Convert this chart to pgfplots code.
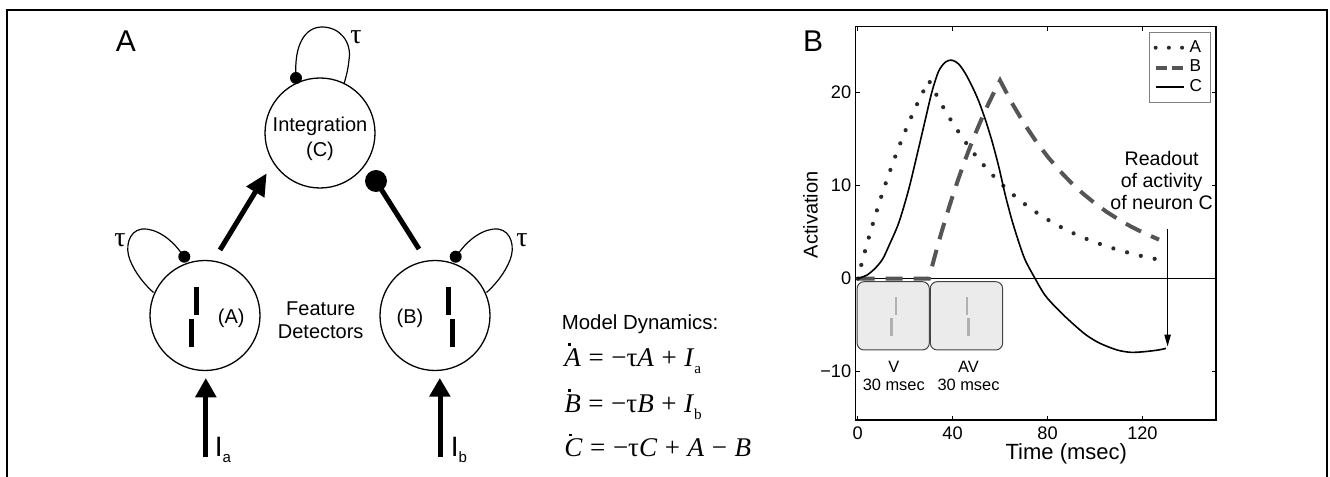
\documentclass[border=0pt]{standalone}
\usepackage{fontspec}
\setmainfont{Liberation Sans}
\newfontfamily\serif{Liberation Serif}
\usepackage{pgfplots}
\pgfplotsset{compat=1.18}
\usetikzlibrary{arrows.meta}
\definecolor{dgray}{HTML}{555555}
\definecolor{dotc}{HTML}{2A2A2A}
\definecolor{boxfill}{HTML}{EBEBEB}
\definecolor{boxedge}{HTML}{444444}
\definecolor{barg}{HTML}{B0B0B0}
\newcommand\od[1]{\ooalign{#1\cr\hidewidth\kern-0.22em\raisebox{0.76em}{\rule{0.11em}{0.11em}}\hidewidth\cr}}
\newcommand\sub[1]{\raisebox{-0.26em}{\fontsize{7.6}{8}\selectfont\upshape #1}}
\newcommand\esp{\hspace{0.28em}}
\begin{document}
\begin{tikzpicture}[font=\fontsize{10}{12}\selectfont]
\begin{axis}[
  at={(427.65pt,28.5pt)}, anchor=south west,
  width=180.35pt, height=196.65pt, scale only axis,
  xmin=-1, xmax=151, ymin=-15.2, ymax=27.1,
  xtick={0,40,80,120}, xticklabels={0,40,80,120},
  ytick={-10,0,10,20}, yticklabels={−10,0,10,20},
  tick align=inside, major tick length=2.2pt,
  tick style={black, line width=0.5pt},
  axis line style={line width=0.65pt},
  ticklabel style={font=\fontsize{9.1}{10}\selectfont},
  yticklabel style={xshift=1.5pt},
  xlabel={Time (msec)}, ylabel={Activation},
  xlabel style={at={(axis description cs:0.585,-0.086)}, anchor=center, font=\fontsize{11}{12}\selectfont},
  ylabel style={at={(axis description cs:-0.124,0.522)}, anchor=center, rotate=0, font=\fontsize{10}{12}\selectfont},
  clip=false,
  legend style={at={(axis description cs:0.985,0.987)}, anchor=north east, draw=gray, line width=0.5pt,
    font=\fontsize{8.6}{8.6}\selectfont, inner xsep=2pt, inner ysep=2pt, row sep=-1.5pt,
    /tikz/every even column/.append style={column sep=1pt}},
  legend cell align=left,
  legend image code/.code={\draw[#1] (0pt,0pt) -- (14pt,0pt);},
]
% stimulus boxes
\draw[fill=boxfill, draw=boxedge, rounded corners=3.5pt, line width=0.5pt] (axis cs:-0.25,-0.32) rectangle (axis cs:30.2,-7.67);
\draw[fill=boxfill, draw=boxedge, rounded corners=3.5pt, line width=0.5pt] (axis cs:30.6,-0.32) rectangle (axis cs:61.1,-7.67);
\draw[barg, line width=1.35pt] (axis cs:16.2,-1.99) -- (axis cs:16.2,-3.9);
\draw[barg, line width=1.35pt] (axis cs:14.2,-4.26) -- (axis cs:14.2,-6.17);
\draw[barg, line width=1.35pt] (axis cs:46.1,-1.99) -- (axis cs:46.1,-3.9);
\draw[barg, line width=1.35pt] (axis cs:46.8,-4.26) -- (axis cs:46.8,-6.17);
\node[font=\fontsize{8.2}{9}\selectfont] at (axis cs:15.2,-9.46) {V};
\node[font=\fontsize{8.2}{9}\selectfont] at (axis cs:15.2,-11.43) {30 msec};
\node[font=\fontsize{8.2}{9}\selectfont] at (axis cs:46.7,-9.46) {AV};
\node[font=\fontsize{8.2}{9}\selectfont] at (axis cs:46.7,-11.43) {30 msec};
% zero line
\draw[line width=0.5pt] (axis cs:-1,0) -- (axis cs:151,0);
% B
\addplot[dgray, line width=2pt, dash pattern=on 8.5pt off 5.5pt, forget plot] coordinates {
(0,0) (30,0) (32.5,2.42) (35,4.71) (37.5,6.86) (40,8.88) (42.5,10.78) (45,12.57) (47.5,14.26) (50,15.85) (52.5,17.34) (55,18.75) (57.5,20.07) (60,21.32) (65,18.89) (70,16.74) (75,14.83) (80,13.14) (85,11.64) (90,10.31) (95,9.14) (100,8.10) (105,7.17) (110,6.36) (115,5.63) (120,4.99) (125,4.42) (127,4.2)};
% A
\addplot[dotc, line width=2.1pt, line cap=round, dash pattern=on 0pt off 7.1pt, forget plot] coordinates {
(0,0) (2.5,2.42) (5,4.71) (7.5,6.86) (10,8.88) (12.5,10.78) (15,12.57) (17.5,14.26) (20,15.85) (22.5,17.34) (25,18.75) (27.5,20.07) (30,21.32) (35,18.89) (40,16.74) (45,14.83) (50,13.14) (55,11.64) (60,10.31) (65,9.14) (70,8.10) (75,7.17) (80,6.36) (85,5.63) (90,4.99) (95,4.42) (100,3.92) (105,3.47) (110,3.08) (115,2.73) (120,2.41) (125,2.14) (130,1.90) (131,1.86)};
% C
\addplot[black, line width=0.8pt, smooth, forget plot] coordinates {
(0,0) (4,0.4) (7.5,1.15) (10.5,2.1) (13.1,3.5) (17.3,6.0) (21.5,9.6) (25.7,14.05) (28.5,17.1) (31.3,20.1) (34.1,22.3) (37.0,23.3) (39.7,23.5) (42.5,23.1) (45.3,22.1) (48.2,20.7) (51.0,19.1) (53.8,17.1) (56.6,14.8) (59.4,12.1) (62.2,9.0) (65.0,6.3) (67.8,4.0) (70.6,2.0) (74.8,0) (79.0,-1.8) (84.7,-3.4) (90.5,-4.8) (96.3,-6.06) (102.1,-6.95) (109.3,-7.67) (115.1,-7.92) (120.9,-7.85) (126.7,-7.67) (129.9,-7.5)};
\addlegendimage{dotc, line width=2pt, line cap=round, dash pattern=on 0pt off 6.6pt}
\addlegendentry{A}
\addlegendimage{dgray, line width=2pt, dash pattern=on 5.5pt off 2.5pt}
\addlegendentry{B}
\addlegendimage{black, line width=1pt}
\addlegendentry{C}
% readout
\draw[line width=0.6pt, -{Triangle[length=6pt,width=3.2pt]}] (axis cs:130.6,5.3) -- (axis cs:130.6,-7.3);
\node[align=center, font=\fontsize{9.8}{10.85}\selectfont] at (axis cs:128.1,10.58) {Readout\\of activity\\of neuron C};
\end{axis}
% ---------- diagram (pixel coordinates of the reference) ----------
\begin{scope}[x=0.5pt, y=-0.5pt, yshift=238.5pt]
\draw[line width=1.1pt] (7,480) -- (7,10) -- (1327,10) -- (1327,480);
\node[font=\fontsize{15}{15}\selectfont] at (126,41) {A};
\node[font=\fontsize{15}{15}\selectfont] at (813,41) {B};
% circles
\draw[line width=0.65pt] (320,133) circle[radius=55];
\draw[line width=0.65pt] (205,315.5) circle[radius=55];
\draw[line width=0.65pt] (435,315.5) circle[radius=55];
\node[align=center, font=\fontsize{10}{12.5}\selectfont] at (320,139) {Integration\\(C)};
\node[align=center, font=\fontsize{10}{11.7}\selectfont] at (320.7,320) {Feature\\Detectors};
\node[font=\fontsize{10}{12}\selectfont] at (231.3,318) {(A)};
\node[font=\fontsize{10}{12}\selectfont] at (410,318) {(B)};
% feature bars
\fill (194.3,286.7) rectangle (199.3,315);
\fill (189,319.3) rectangle (194,346.7);
\fill (446,286.7) rectangle (451,315);
\fill (450,319.3) rectangle (455,346.7);
% self loops
\draw[line width=0.6pt] (296,76) .. controls (294,45) and (305,27) .. (322,27) .. controls (340,27) and (352,42) .. (349,60) .. controls (348,70) and (346,77) .. (344,84);
\fill (296,78) circle[radius=6];
\draw[line width=0.6pt] (184,257) .. controls (172,238) and (155,228) .. (142,229) .. controls (128,231) and (125,248) .. (130,260) .. controls (135,273) and (145,285) .. (153.5,292.5);
\fill (184.3,256.7) circle[radius=6];
\draw[line width=0.6pt] (456,257) .. controls (468,238) and (485,228) .. (498,229) .. controls (512,231) and (515,248) .. (510,260) .. controls (505,273) and (495,285) .. (486.5,292.5);
\fill (455.7,256.7) circle[radius=6];
\node[font=\serif\fontsize{14}{14}\selectfont] at (356,37) {τ};
\node[font=\serif\fontsize{14}{14}\selectfont] at (120,240) {τ};
\node[font=\serif\fontsize{14}{14}\selectfont] at (522,240) {τ};
% connections
\draw[line width=2.5pt, -{Triangle[length=11pt,width=10pt]}] (220,250) -- (266.7,173.3);
\draw[line width=2.5pt] (419,249) -- (376,181);
\fill (376,181) circle[radius=11];
% inputs
\draw[line width=2.5pt] (205.8,457) -- (205.8,395);
\fill (195,397.3) -- (205.8,378.3) -- (216.7,397.3) -- cycle;
\draw[line width=2.5pt] (440.5,457) -- (440.5,395);
\fill (429,396.7) -- (439.8,378.3) -- (450.7,396.7) -- cycle;
\node[anchor=base west, inner sep=0pt] at (214.5,456.7) {\fontsize{14}{14}\selectfont I\raisebox{-3pt}{\fontsize{7.5}{7.5}\selectfont a}};
\node[anchor=base west, inner sep=0pt] at (450.5,456.7) {\fontsize{14}{14}\selectfont I\raisebox{-3pt}{\fontsize{7.5}{7.5}\selectfont b}};
% model dynamics
\node[anchor=base west, inner sep=0pt, font=\fontsize{10.2}{12}\selectfont] at (561.5,330) {Model Dynamics:};
\node[anchor=base west, inner sep=0pt, font=\serif\fontsize{13.5}{13.5}\selectfont] at (564,366.7) {\od{\textit{A}}\esp=\esp−τ\textit{A}\esp+\esp\textit{I}\sub{a}};
\node[anchor=base west, inner sep=0pt, font=\serif\fontsize{13.5}{13.5}\selectfont] at (564,412.5) {\od{\textit{B}}\esp=\esp−τ\textit{B}\esp+\esp\textit{I}\sub{b}};
\node[anchor=base west, inner sep=0pt, font=\serif\fontsize{13.5}{13.5}\selectfont] at (564,457) {\od{\textit{C}}\esp=\esp−τ\textit{C}\esp+\esp\textit{A}\esp−\esp\textit{B}};
\end{scope}
\pgfresetboundingbox
\path[use as bounding box] (0,0) rectangle (665pt,238.5pt);
\end{tikzpicture}
\end{document}
